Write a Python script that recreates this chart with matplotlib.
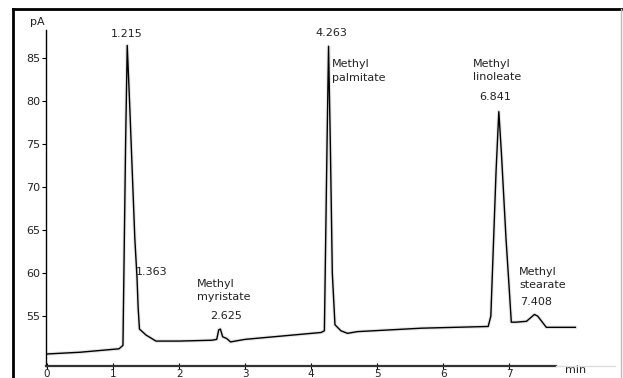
import matplotlib
matplotlib.use("Agg")
import matplotlib.pyplot as plt
from matplotlib.lines import Line2D

# Chromatogram trace (time in min, signal in pA)
time_min = [0.00, 0.50, 1.09, 1.15, 1.19, 1.215, 1.25, 1.29, 1.33, 1.363, 1.38, 1.40,
            1.50, 1.65, 2.00, 2.50, 2.57, 2.60, 2.625, 2.66, 2.72, 2.78, 2.85, 3.00,
            4.15, 4.20, 4.24, 4.263, 4.29, 4.32, 4.36, 4.45, 4.55, 4.70, 5.67, 6.68,
            6.72, 6.80, 6.841, 6.88, 6.95, 7.00, 7.03, 7.10, 7.26, 7.32, 7.38, 7.43,
            7.50, 7.56, 7.70, 8.00]
signal_pA = [50.6, 50.8, 51.2, 51.6, 75.0, 86.5, 80.0, 72.0, 64.0, 59.5, 56.0, 53.5,
             52.8, 52.1, 52.1, 52.2, 52.3, 53.4, 53.5, 52.6, 52.4, 52.0, 52.1, 52.3,
             53.1, 53.3, 75.0, 86.4, 75.0, 60.0, 54.0, 53.3, 53.0, 53.2, 53.6, 53.8,
             55.0, 72.0, 78.8, 74.0, 64.0, 58.0, 54.3, 54.3, 54.4, 54.8, 55.2, 55.0,
             54.3, 53.7, 53.7, 53.7]

x_ticks = [0, 1, 2, 3, 4, 5, 6, 7]
y_ticks = [55, 60, 65, 70, 75, 80, 85]

# Peak annotations: (text, time, signal, horizontal alignment)
peak_labels = ["1.215", "1.363", "Methyl\nmyristate", "2.625", "4.263",
               "Methyl\npalmitate", "Methyl\nlinoleate", "6.841",
               "Methyl\nstearate", "7.408"]
label_time = [1.21, 1.35, 2.27, 2.71, 4.30, 4.32, 6.45, 6.79, 7.15, 7.17]
label_pA = [87.8, 60.1, 58.0, 55.0, 87.9, 83.5, 83.6, 80.5, 59.4, 56.6]
label_ha = ["center", "left", "left", "center", "center", "left", "left",
            "center", "left", "left"]

W, H = 623, 378
fig = plt.figure(figsize=(W / 100, H / 100), dpi=100)
fig.patch.set_facecolor("white")

ax = fig.add_axes([46 / W, (H - 366) / H, (615 - 46) / W, (366 - 30) / H])
ax.set_facecolor("white")

x_min, x_max = -0.015, 8.6
y_min, y_max = 49.2, 88.3
ax.set_xlim(x_min, x_max)
ax.set_ylim(y_min, y_max)

# faint ghost under the trace, then the trace
ax.plot(time_min, signal_pA, color="#e6e6e6", lw=2.6, zorder=2)
ax.plot(time_min, signal_pA, color="black", lw=1.0, zorder=3)

for s in ["top", "right", "bottom"]:
    ax.spines[s].set_visible(False)
ax.spines["left"].set_linewidth(1.0)

ax.set_xticks(x_ticks)
ax.set_yticks(y_ticks)
ax.tick_params(axis="y", direction="out", length=3, width=0.8, labelsize=8, pad=1,
               labelcolor="#222222")
ax.tick_params(axis="x", direction="inout", length=5, width=0.8, labelsize=7.5, pad=0,
               labelcolor="#222222")

# x axis line: dark part then light grey continuation
ax.plot([x_min, 7.71], [y_min, y_min], color="#333333", lw=1.6, clip_on=False, zorder=4)
ax.plot([7.71, x_max], [y_min, y_min], color="#dddddd", lw=1.0, clip_on=False, zorder=4)

ax.text(-0.14, 89.2, "pA", fontsize=8, ha="center", va="center", color="#222222",
        clip_on=False)
ax.text(8.0, 48.75, "min", fontsize=8, ha="center", va="center", color="#222222",
        clip_on=False)

for txt, t, v, ha in zip(peak_labels, label_time, label_pA, label_ha):
    ax.text(t, v, txt, fontsize=8, ha=ha, va="center", color="#222222",
            linespacing=1.45, zorder=5)

# outer frame
fig.add_artist(Line2D([13 / W, 621 / W], [1 - 9 / H, 1 - 9 / H],
                      color="black", lw=2.0, transform=fig.transFigure))
fig.add_artist(Line2D([13 / W, 13 / W], [0, 1 - 9 / H],
                      color="black", lw=2.0, transform=fig.transFigure))
fig.add_artist(Line2D([621 / W, 621 / W], [0, 1 - 9 / H],
                      color="#bbbbbb", lw=1.0, transform=fig.transFigure))

fig.savefig("out.png", dpi=100, facecolor="white")
